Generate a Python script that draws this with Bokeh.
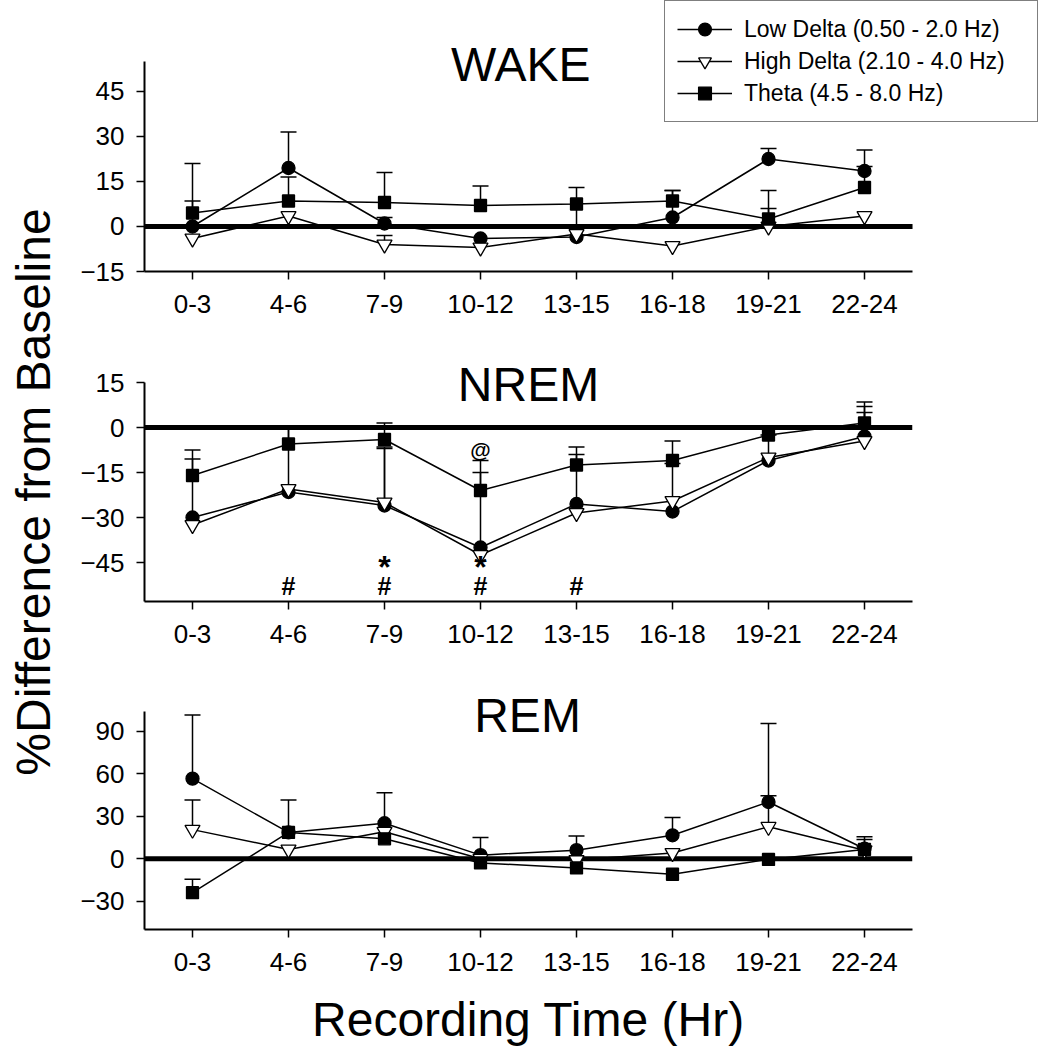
import math
from bokeh.plotting import figure
from bokeh.models import (Range1d, Whisker, TeeHead, ColumnDataSource,
                          Legend, LegendItem, Label, FixedTicker)
from bokeh.layouts import row, column
from bokeh.embed import file_html
from bokeh.resources import INLINE
from bokeh.core.properties import value

FONT = "Liberation Sans"

# ---------------- data ----------------
times = ["0-3", "4-6", "7-9", "10-12", "13-15", "16-18", "19-21", "22-24"]
series_names = ["Low Delta (0.50 - 2.0 Hz)", "High Delta (2.10 - 4.0 Hz)", "Theta (4.5 - 8.0 Hz)"]

wake_low = [0, 19.5, 1, -4, -3.5, 3, 22.5, 18.5]
wake_low_err = [21, 12, 2, 0, 16.5, 9, 3.5, 7]
wake_high = [-4, 3.5, -6, -7, -2.5, -6.5, 0, 3.5]
wake_high_err = [0, 0, 3, 0, 0, 0, 6, 0]
wake_theta = [4.5, 8.5, 8, 7, 7.5, 8.5, 2.5, 13]
wake_theta_err = [4, 8, 10, 6.5, 0, 3.5, 9.5, 7]

nrem_low = [-30, -21.5, -26, -40, -25.5, -28, -11, -3]
nrem_low_err = [19.5, 21, 19.5, 25, 19, 0, 0, 10]
nrem_high = [-32.5, -20.5, -25, -42.5, -28.5, -24.5, -10, -4.5]
nrem_high_err = [0, 0, 18, 0, 0, 12.5, 7.5, 9.5]
nrem_theta = [-16, -5.5, -4, -21, -12.5, -11, -2.5, 1.5]
nrem_theta_err = [8.5, 5, 5.5, 10, 3.5, 6.5, 2, 7]

rem_low = [56.5, 18.5, 25, 2.5, 6, 16.5, 40, 7]
rem_low_err = [45, 23, 21.5, 12.5, 10, 12.5, 55.5, 8.5]
rem_high = [20.5, 6.5, 19, 0, -1, 4, 22.5, 6]
rem_high_err = [21, 0, 0, 0, 0, 0, 22, 0]
rem_theta = [-24, 18.5, 14, -3, -6.5, -11, -0.5, 6.5]
rem_theta_err = [9.5, 0, 0, 0, 0, 0, 0, 7]

wake_ticks = [-15, 0, 15, 30, 45]
nrem_ticks = [-45, -30, -15, 0, 15]
rem_ticks = [-30, 0, 30, 60, 90]

# NREM significance marks (vertical centres)
hash_x = ["4-6", "7-9", "10-12", "13-15"]
hash_y = [-52.8, -52.8, -52.8, -52.8]
star_x = ["7-9", "10-12"]
star_y = [-46.5, -46.5]
at_x = ["10-12"]
at_y = [-7.2]

xpos = list(range(len(times)))
XLO, XHI = -0.5, len(times) - 0.5


def idx(labels):
    return [times.index(t) for t in labels]


def make_panel(title, title_x, title_y, ylo, yhi, ybound_hi, yticks,
               low, low_err, high, high_err, theta, theta_err,
               frame_w, frame_h, b_right, b_bot, x_hi, xlabel=None):
    p = figure(x_range=Range1d(XLO, x_hi), y_range=Range1d(ylo, yhi),
               frame_width=frame_w, frame_height=frame_h,
               min_border_left=80, min_border_right=b_right,
               min_border_top=0, min_border_bottom=b_bot,
               toolbar_location=None, output_backend="svg", title=None)
    p.outline_line_color = None
    p.xgrid.visible = False
    p.ygrid.visible = False
    p.background_fill_color = "white"
    p.border_fill_color = "white"

    for ax in (p.xaxis[0], p.yaxis[0]):
        ax.axis_line_width = 2
        ax.axis_line_color = "black"
        ax.major_tick_line_width = 1.5
        ax.major_tick_line_color = "black"
        ax.major_tick_in = 0
        ax.major_tick_out = 8
        ax.minor_tick_line_color = None
        ax.major_label_text_font = FONT
        ax.major_label_text_font_size = "26px"
        ax.major_label_text_color = "black"
    p.yaxis[0].ticker = FixedTicker(ticks=yticks)
    p.yaxis[0].bounds = (ylo, ybound_hi)
    p.yaxis[0].major_label_standoff = 12
    p.xaxis[0].ticker = FixedTicker(ticks=xpos)
    p.xaxis[0].major_label_overrides = {i: t for i, t in zip(xpos, times)}
    p.xaxis[0].bounds = (XLO, XHI)
    p.xaxis[0].major_label_standoff = 15
    if xlabel:
        p.xaxis[0].axis_label = xlabel
        p.xaxis[0].axis_label_text_font = FONT
        p.xaxis[0].axis_label_text_font_size = "48px"
        p.xaxis[0].axis_label_text_font_style = "normal"
        p.xaxis[0].axis_label_text_color = "black"
        p.xaxis[0].axis_label_standoff = 19

    # thick zero reference line across the axis extent
    p.segment(x0=[XLO], y0=[0], x1=[XHI], y1=[0], line_color="black", line_width=5)

    renderers = []
    specs = [
        (low, low_err, "circle", 13, "black"),
        (high, high_err, "inverted_triangle", 15, "white"),
        (theta, theta_err, "square", 12, "black"),
    ]
    for vals, errs, _, _, _ in specs:
        xs = [x for x, e in zip(xpos, errs) if e > 0]
        lo = [v for v, e in zip(vals, errs) if e > 0]
        hi = [v + e for v, e in zip(vals, errs) if e > 0]
        src = ColumnDataSource(dict(x=xs, lo=lo, hi=hi))
        p.add_layout(Whisker(source=src, base="x", lower="lo", upper="hi",
                             dimension="height", line_color="black", line_width=1.5,
                             upper_head=TeeHead(size=16, line_width=1.5, line_color="black"),
                             lower_head=None, level="underlay"))
    for vals, errs, marker, size, fill in specs:
        src = ColumnDataSource(dict(x=xpos, y=vals))
        lr = p.line("x", "y", source=src, line_color="black", line_width=1.5)
        mr = p.scatter("x", "y", source=src, marker=marker, size=size,
                       fill_color=fill, line_color="black", line_width=1.3)
        renderers.append((lr, mr))

    p.add_layout(Label(x=title_x, y=title_y, text=title, text_align="center",
                       text_baseline="middle", text_font=FONT,
                       text_font_size="48px", text_color="black"))
    return p, renderers


# top panel has an extended frame so the legend can sit over its top-right corner
p1, r1 = make_panel("WAKE", 3.42, 53.9, -15, 75.33, 55, wake_ticks,
                    wake_low, wake_low_err, wake_high, wake_high_err,
                    wake_theta, wake_theta_err,
                    frame_w=896, frame_h=271, b_right=5, b_bot=58, x_hi=8.833)
p2, r2 = make_panel("NREM", 3.5, 14.2, -58, 32.67, 15, nrem_ticks,
                    nrem_low, nrem_low_err, nrem_high, nrem_high_err,
                    nrem_theta, nrem_theta_err,
                    frame_w=768, frame_h=272, b_right=133, b_bot=58, x_hi=XHI)
p3, r3 = make_panel("REM", 3.49, 101, -50, 140.6, 104, rem_ticks,
                    rem_low, rem_low_err, rem_high, rem_high_err,
                    rem_theta, rem_theta_err,
                    frame_w=768, frame_h=270, b_right=133, b_bot=119, x_hi=XHI,
                    xlabel="Recording Time (Hr)")

# significance marks on NREM
p2.text(x=idx(hash_x), y=hash_y, text=["#"] * len(hash_x), text_align="center",
        text_baseline="middle", text_font=value(FONT), text_font_size="25px",
        text_font_style="bold", text_color="black")
p2.text(x=idx(star_x), y=star_y, text=["*"] * len(star_x), text_align="center",
        text_baseline="middle", text_font=value(FONT), text_font_size="32px",
        text_font_style="bold", text_color="black")
p2.text(x=idx(at_x), y=at_y, text=["@"] * len(at_x), text_align="center",
        text_baseline="middle", text_font=value(FONT), text_font_size="21px",
        text_font_style="bold", text_color="black")

legend = Legend(items=[LegendItem(label=n, renderers=list(r)) for n, r in zip(series_names, r1)],
                location=(520, 149), orientation="vertical",
                border_line_color="black", border_line_width=1.5,
                background_fill_color="white", background_fill_alpha=1.0,
                label_text_font=FONT, label_text_font_size="23px", label_text_color="black",
                glyph_width=55, glyph_height=32, label_height=28, label_width=281,
                spacing=0, padding=12, label_standoff=12, margin=0)
p1.add_layout(legend)

# shared y-axis title in a narrow side figure
lab = figure(width=64, height=1048, x_range=Range1d(0, 1), y_range=Range1d(0, 1),
             x_axis_location=None, y_axis_location=None, toolbar_location=None,
             output_backend="svg", min_border=0, title=None)
lab.outline_line_color = None
lab.xgrid.visible = False
lab.ygrid.visible = False
lab.add_layout(Label(x=0.523, y=0.531, text="%Difference from Baseline", angle=math.pi / 2,
                     text_align="center", text_baseline="middle", text_font=FONT,
                     text_font_size="48px", text_color="black"))

layout = row(lab, column(p1, p2, p3))
open("out.html", "w").write(file_html(layout, INLINE))
